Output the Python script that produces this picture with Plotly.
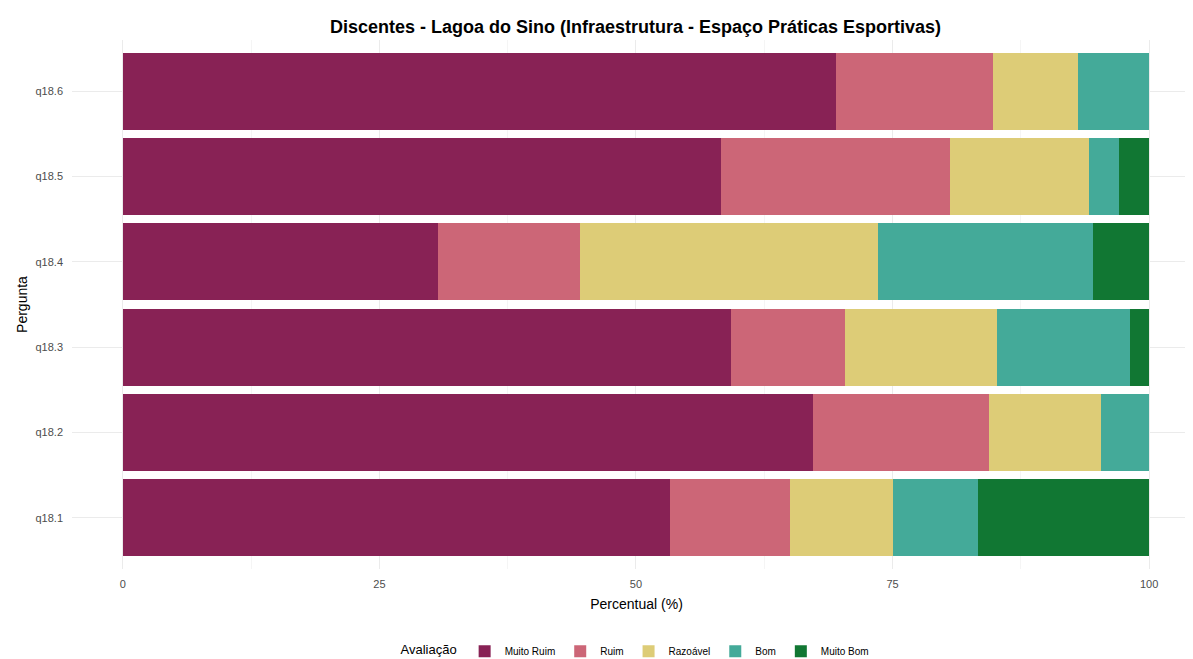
import plotly.graph_objects as go

perguntas = ["q18.1", "q18.2", "q18.3", "q18.4", "q18.5", "q18.6"]
categorias = ["Muito Ruim", "Ruim", "Razoável", "Bom", "Muito Bom"]
cores = ["#882255", "#CC6677", "#DDCC77", "#44AA99", "#117733"]

muito_ruim = [53.3, 67.2, 59.3, 30.7, 58.3, 69.5]
ruim = [11.7, 17.2, 11.1, 13.8, 22.3, 15.3]
razoavel = [10.0, 10.9, 14.8, 29.1, 13.5, 8.3]
bom = [8.3, 4.7, 12.9, 20.9, 3.0, 6.9]
muito_bom = [16.7, 0.0, 1.9, 5.5, 2.9, 0.0]

series = [muito_ruim, ruim, razoavel, bom, muito_bom]

fig = go.Figure()
for nome, cor, vals in zip(categorias, cores, series):
    fig.add_trace(go.Bar(
        y=perguntas, x=vals, name=nome, orientation="h",
        marker=dict(color=cor, line=dict(width=0)),
        hovertemplate="%{y}: %{x:.1f}%<extra>" + nome + "</extra>",
    ))

fig.update_layout(
    barmode="stack",
    bargap=0.1,
    width=1193, height=659,
    paper_bgcolor="white", plot_bgcolor="white",
    font=dict(family="Liberation Sans, Arial, sans-serif", color="#000000"),
    margin=dict(l=64, r=0, t=32, b=98, autoexpand=False),
    title=dict(
        text="<b>Discentes - Lagoa do Sino (Infraestrutura - Espaço Práticas Esportivas)</b>",
        x=0.526, xanchor="center", y=0.972, yanchor="middle",
        font=dict(size=18, color="#000000"),
    ),
    xaxis=dict(
        range=[-4.95, 105.05],
        tickvals=[0, 25, 50, 75, 100],
        ticktext=["0", "25", "50", "75", "100"],
        showgrid=True, gridcolor="#EBEBEB", gridwidth=1,
        minor=dict(tickvals=[12.5, 37.5, 62.5, 87.5], showgrid=True, gridcolor="#F5F5F5", gridwidth=1),
        zeroline=False, showline=False, ticks="",
        tickfont=dict(size=11, color="#4D4D4D"),
        ticklabelstandoff=7,
        automargin=False,
        title=dict(text="Percentual (%)", font=dict(size=14, color="#000000"), standoff=10),
    ),
    yaxis=dict(
        categoryorder="array", categoryarray=perguntas,
        range=[-0.6, 5.6],
        showgrid=True, gridcolor="#EBEBEB", gridwidth=1,
        zeroline=False, showline=False, ticks="",
        tickfont=dict(size=11, color="#4D4D4D"),
        ticklabelstandoff=8,
        automargin=False,
        title=dict(text="Pergunta", font=dict(size=14, color="#000000"), standoff=4),
    ),
    legend=dict(
        orientation="h", x=0.5, xanchor="center", y=-0.128, yanchor="top",
        title=dict(text="Avaliação", font=dict(size=13, color="#000000"), side="left"),
        font=dict(size=10, color="#000000"),
        traceorder="normal",
        itemwidth=30,
    ),
)

fig.write_html("out.html")
